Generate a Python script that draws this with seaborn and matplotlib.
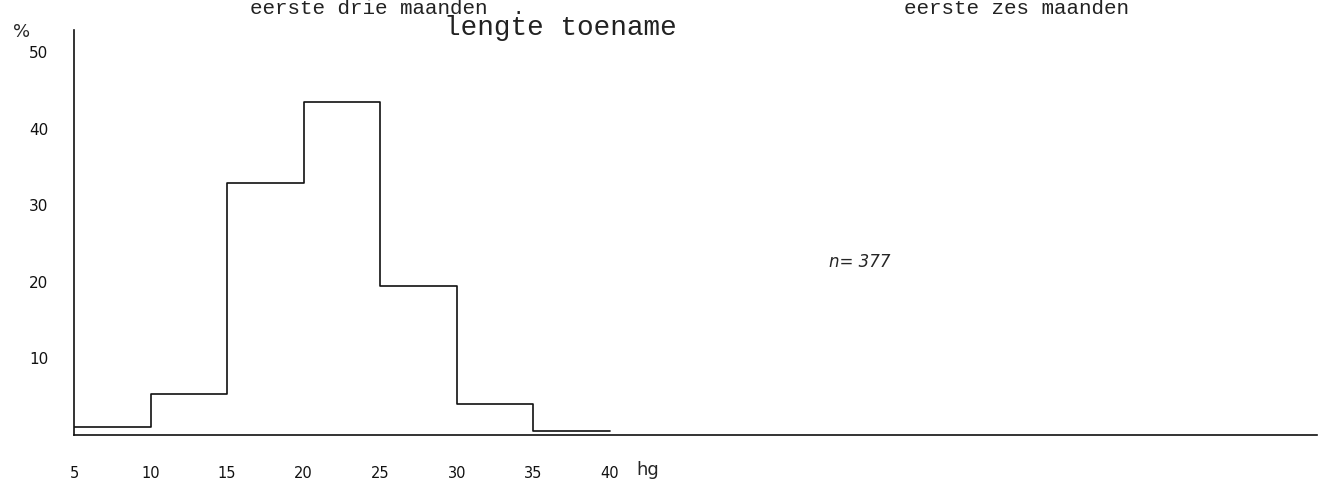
import numpy as np
import matplotlib
matplotlib.use("Agg")
import matplotlib.pyplot as plt
import seaborn as sns

# class edges (hg) and percentage per class
bin_edges = [5, 10, 15, 20, 25, 30, 35, 40]
percentages = [1.0, 5.4, 32.9, 43.5, 19.5, 4.0, 0.5]
bin_mids = [(a + b) / 2 for a, b in zip(bin_edges[:-1], bin_edges[1:])]

x_ticks = [5, 10, 15, 20, 25, 30, 35, 40]
y_ticks = [10, 20, 30, 40, 50]

sns.set_theme(style="white")
plt.rcParams['font.family'] = ['DejaVu Sans']

fig = plt.figure(figsize=(13.32, 4.99), dpi=100)
ax = fig.add_axes([74 / 1332, 1 - 435 / 499, (1317 - 74) / 1332, (435 - 30) / 499])

sns.histplot(x=bin_mids, weights=percentages, bins=bin_edges, element="step",
             fill=False, color="#111111", linewidth=1.2, ax=ax)

ax.set_xlim(5, 5 + (1317 - 74) / 15.31)
ax.set_ylim(0, (435 - 30) / 7.66)
ax.set_xticks(x_ticks)
ax.set_yticks(y_ticks)
ax.set_xticklabels([str(t) for t in x_ticks], fontsize=10.5)
ax.set_yticklabels([str(t) for t in y_ticks], fontsize=11)
ax.tick_params(axis="x", direction="in", length=4, width=1, pad=22, colors="#111111")
ax.tick_params(axis="y", direction="inout", length=5, width=1, pad=16, colors="#111111")
ax.set_xlabel("")
ax.set_ylabel("")

for side in ["top", "right"]:
    ax.spines[side].set_visible(False)
for side in ["left", "bottom"]:
    ax.spines[side].set_color("#111111")
    ax.spines[side].set_linewidth(1.2)

# unit labels and sample size
fig.text(22 / 1332, 1 - 32 / 499, "%", fontsize=13, ha="center", va="center")
ax.text(42.5, -4.6, "hg", fontsize=13, ha="center", va="center")
ax.text(56.3, 22.6, "n= 377", fontsize=12, style="italic", ha="center", va="center")

# typed headings
mono = ["Liberation Mono", "DejaVu Sans Mono"]
fig.text(560 / 1332, 1 - 35 / 499, "lengte toename", family=mono, fontsize=20,
         ha="center", va="baseline", color="#222222")
fig.text(250 / 1332, 1 - 14 / 499, "eerste drie maanden  .", family=mono, fontsize=15,
         ha="left", va="baseline", color="#222222")
fig.text(1016 / 1332, 1 - 14 / 499, "eerste zes maanden", family=mono, fontsize=15,
         ha="center", va="baseline", color="#222222")

fig.savefig("out.png", dpi=100, facecolor="white")
